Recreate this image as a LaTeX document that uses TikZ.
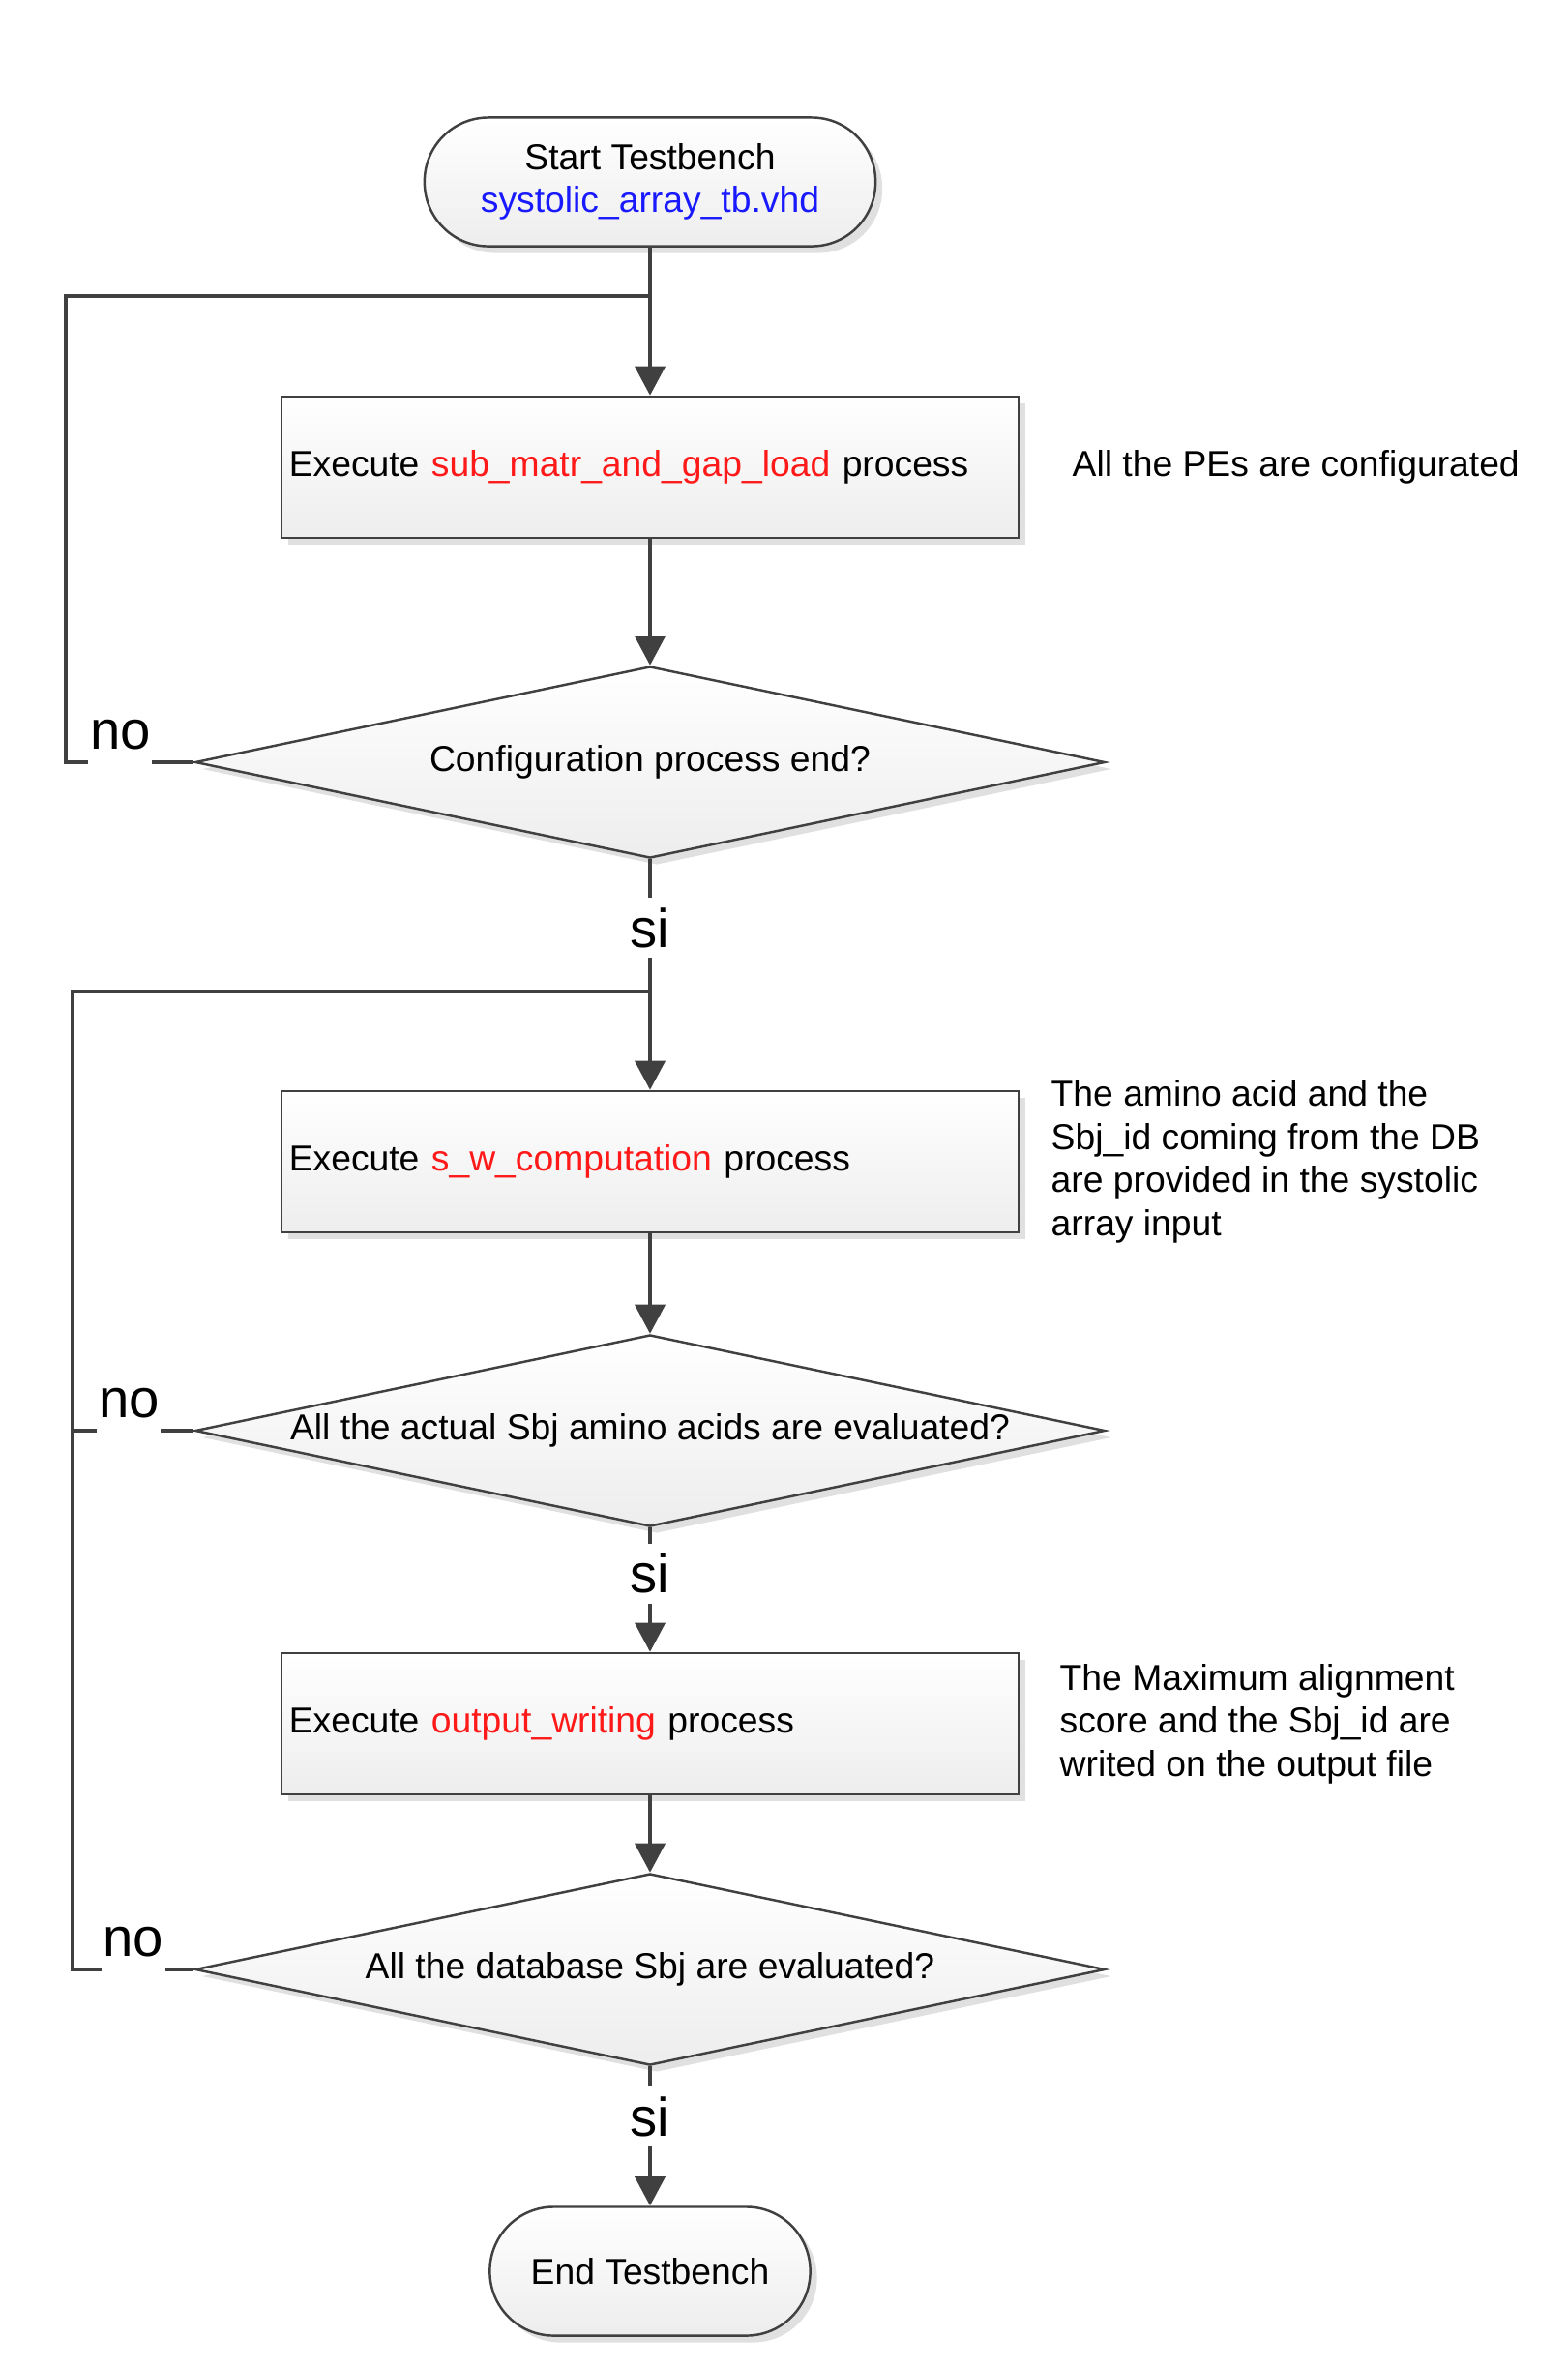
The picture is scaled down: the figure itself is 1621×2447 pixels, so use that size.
\documentclass[tikz,border=0pt]{standalone}
\usepackage{fontspec}
\setmainfont{Liberation Sans}
\usepackage{tikz}
\usetikzlibrary{shapes,shadows,arrows.meta}
\definecolor{linegray}{RGB}{64,64,64}
\definecolor{fnred}{RGB}{255,25,25}
\definecolor{fnblue}{RGB}{25,25,255}
\newcommand{\fnr}[1]{\textcolor{fnred}{#1}}
\newcommand{\dtext}[1]{\makebox[0pt]{#1}}
\tikzset{
  fillgrad/.style={top color=white, bottom color=black!7, draw=linegray, line width=0.7pt,
    drop shadow={shadow xshift=0.07cm, shadow yshift=-0.07cm, fill=black!12, opacity=1}},
  termbox/.style={fillgrad, rectangle, rounded corners=0.66cm, minimum height=1.33cm, align=center, inner sep=0pt},
  procbox/.style={fillgrad, rectangle, minimum width=7.62cm, minimum height=1.46cm, text width=7.46cm, inner xsep=0.08cm, align=left},
  decbox/.style={fillgrad, diamond, minimum width=9.4cm, minimum height=1.98cm, inner sep=0pt, aspect=4.75},
  note/.style={anchor=west, align=left, inner sep=0pt},
  line/.style={draw=linegray, line width=1.1pt},
  arrow/.style={line, -{Triangle[length=0.3cm,width=0.31cm]}},
  nolabel/.style={font=\fontsize{16}{19}\selectfont, fill=white, anchor=base, yshift=0.14cm, inner xsep=0.5pt, inner ysep=0pt, text depth=0.2cm},
  silabel/.style={font=\fontsize{16}{19}\selectfont, fill=white, inner sep=0pt, minimum height=0.62cm}
}

\begin{document}
\begin{tikzpicture}[x=0.01cm, y=-0.01cm, font=\fontsize{10.6}{12.7}\selectfont]
  \useasboundingbox (0,0) rectangle (1621,2447);
  % start and end
  \node[termbox, minimum width=4.66cm] (start) at (672,188) {Start Testbench\\\textcolor{fnblue}{systolic\_array\_tb.vhd}};
  \node[termbox, minimum width=3.31cm] (finish) at (672,2348) {End Testbench};
  % processes
  \node[procbox] (load) at (672,483) {Execute \fnr{sub\_matr\_and\_gap\_load} process};
  \node[procbox] (comp) at (672,1201) {Execute \fnr{s\_w\_computation} process};
  \node[procbox] (outw) at (672,1782) {Execute \fnr{output\_writing} process};
  % decisions
  \node[decbox] (cfgend) at (672,788) {\dtext{Configuration process end?}};
  \node[decbox] (aaend) at (672,1479) {\dtext{All the actual Sbj amino acids are evaluated?}};
  \node[decbox] (dbend) at (672,2036) {\dtext{All the database Sbj are evaluated?}};
  % notes
  \node[note] (n1) at (1108,483) {All the PEs are configurated};
  \node[note] (n2) at (1086,1201) {The amino acid and the\\Sbj\_id coming from the DB\\are provided in the systolic\\array input};
  \node[note] (n3) at (1095,1782) {The Maximum alignment\\score and the Sbj\_id are\\writed on the output file};
  % junctions
  \coordinate (j1) at (672,306);
  \coordinate (c1) at (68,306);
  \coordinate (j2) at (672,1025);
  \coordinate (c2) at (75,1025);
  % main flow
  \draw[arrow] (start) -- (load);
  \draw[arrow] (load) -- (cfgend);
  \draw[line] (cfgend.south) -- node[silabel, pos=0.52] {si} (j2);
  \draw[arrow] (j2) -- (comp);
  \draw[arrow] (comp) -- (aaend);
  \draw[arrow] (aaend.south) -- node[silabel, pos=0.37] {si} (outw);
  \draw[arrow] (outw) -- (dbend);
  \draw[arrow] (dbend.south) -- node[silabel, pos=0.36] {si} (finish);
  % loop 1
  \draw[line] (cfgend.west) -- node[nolabel, pos=0.575] {no} (cfgend.west -| c1) -- (c1) -- (j1);
  % loop 2
  \draw[line] (aaend.west) -- node[nolabel, pos=0.535] {no} (aaend.west -| c2);
  \draw[line] (dbend.west) -- node[nolabel, pos=0.5] {no} (dbend.west -| c2) -- (c2) -- (j2);
\end{tikzpicture}
\end{document}
